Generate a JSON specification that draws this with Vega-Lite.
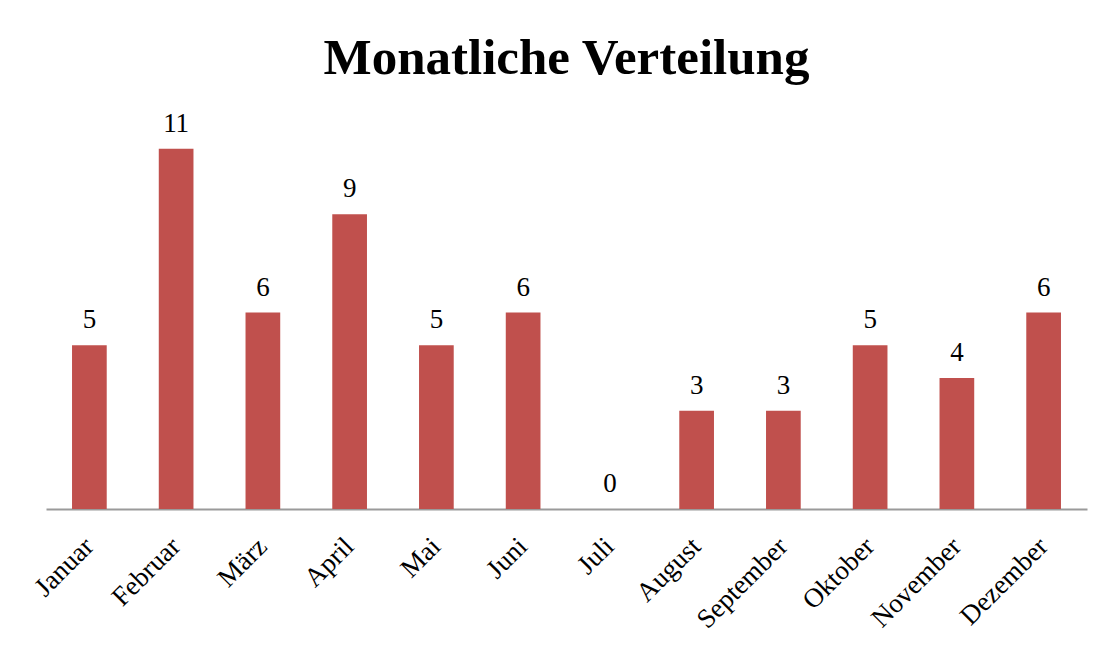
{
  "$schema": "https://vega.github.io/schema/vega-lite/v6.json",
  "width": 1041,
  "height": 393,
  "autosize": {"type": "none"},
  "padding": {"left": 46, "top": 116, "right": 25, "bottom": 140},
  "background": "white",
  "title": {
    "text": "Monatliche Verteilung",
    "font": "Liberation Serif",
    "fontSize": 51,
    "fontWeight": "bold",
    "color": "black",
    "anchor": "middle",
    "frame": "group",
    "baseline": "alphabetic",
    "offset": -15
  },
  "data": {
    "values": [
      {"Monat": "Januar", "Anzahl": 5},
      {"Monat": "Februar", "Anzahl": 11},
      {"Monat": "März", "Anzahl": 6},
      {"Monat": "April", "Anzahl": 9},
      {"Monat": "Mai", "Anzahl": 5},
      {"Monat": "Juni", "Anzahl": 6},
      {"Monat": "Juli", "Anzahl": 0},
      {"Monat": "August", "Anzahl": 3},
      {"Monat": "September", "Anzahl": 3},
      {"Monat": "Oktober", "Anzahl": 5},
      {"Monat": "November", "Anzahl": 4},
      {"Monat": "Dezember", "Anzahl": 6}
    ]
  },
  "encoding": {
    "x": {
      "field": "Monat",
      "type": "nominal",
      "sort": null,
      "scale": {"paddingInner": 0.6, "paddingOuter": 0.3},
      "axis": {
        "title": null,
        "labelAngle": -45,
        "labelAlign": "right",
        "labelBaseline": "middle",
        "labelFont": "Liberation Serif",
        "labelFontSize": 27,
        "labelColor": "black",
        "labelPadding": 33,
        "labelOffset": 0,
        "ticks": false,
        "domainColor": "#9a9a9a",
        "domainWidth": 2,
        "grid": false
      }
    },
    "y": {
      "field": "Anzahl",
      "type": "quantitative",
      "scale": {"domain": [0, 12], "nice": false},
      "axis": null
    }
  },
  "layer": [
    {"mark": {"type": "bar", "color": "#C0504D"}},
    {
      "mark": {
        "type": "text",
        "baseline": "alphabetic",
        "dy": -17,
        "font": "Liberation Serif",
        "fontSize": 27,
        "color": "black"
      },
      "encoding": {"text": {"field": "Anzahl", "type": "quantitative"}}
    }
  ],
  "config": {"view": {"stroke": null}}
}
